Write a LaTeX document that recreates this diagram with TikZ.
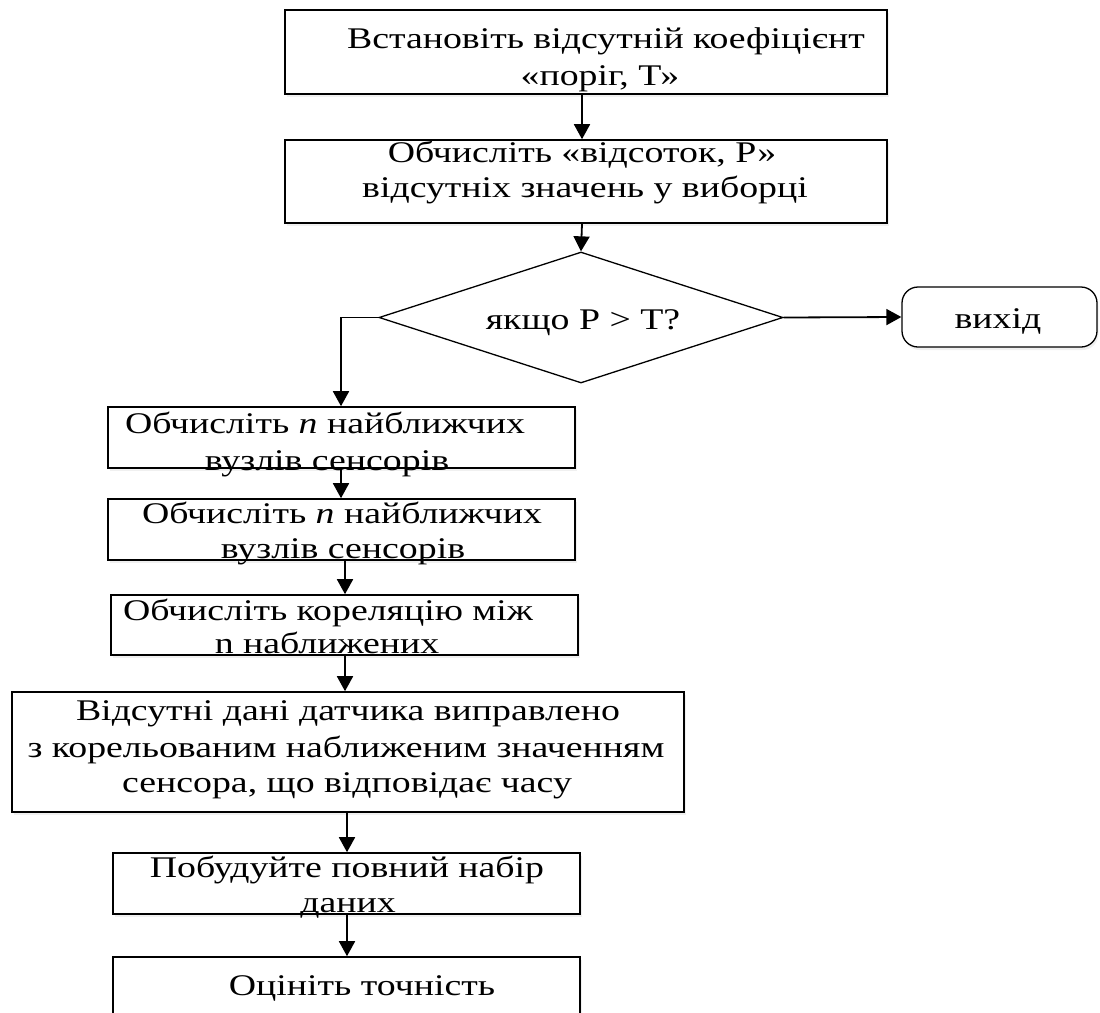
\documentclass[tikz,border=0pt]{standalone}
\usepackage{fontspec}
\setmainfont[FakeStretch=1.26]{Liberation Serif}
\usetikzlibrary{arrows.meta,shapes.geometric,shadows}

\begin{document}
\begin{tikzpicture}[x=1pt,y=-1pt,
  box/.style={draw,rectangle,line width=1.6pt,inner sep=0pt,fill=white,
    drop shadow={opacity=0.12,shadow xshift=1.5pt,shadow yshift=-3pt}},
  decision/.style={draw,diamond,line width=1.3pt,inner sep=0pt,fill=white},
  terminal/.style={draw,rectangle,rounded corners=16pt,line width=1.3pt,inner sep=0pt,fill=white,
    drop shadow={opacity=0.12,shadow xshift=1.5pt,shadow yshift=-3pt}},
  ln/.style={anchor=base,inner sep=0pt,font=\fontsize{30}{36}\selectfont},
  arr/.style={line width=1.8pt,-{Triangle[length=15pt,width=16pt]}}]

\useasboundingbox (0,0) rectangle (1100,1012);
\clip (0,0) rectangle (1100,1012);

% process boxes and decision
\node[box,minimum width=602pt,minimum height=84pt] (b1) at (586,52) {};
\node[box,minimum width=602pt,minimum height=83pt] (b2) at (586,181.5) {};
\node[decision,minimum width=404pt,minimum height=131pt] (dia) at (581,317.5) {};
\node[terminal,minimum width=195pt,minimum height=60pt] (exit) at (999.5,317) {};
\node[box,minimum width=467pt,minimum height=61pt] (b3) at (341.5,437.5) {};
\node[box,minimum width=467pt,minimum height=61pt] (b4) at (341.5,529.5) {};
\node[box,minimum width=467pt,minimum height=60pt] (b5) at (344.5,625) {};
\node[box,minimum width=672pt,minimum height=120pt] (b6) at (348,752) {};
\node[box,minimum width=467pt,minimum height=61pt] (b7) at (346.5,883.5) {};
\node[box,minimum width=467pt,minimum height=83pt] (b8) at (346.5,998.5) {};

% connector columns
\coordinate (cA) at (582,0);
\coordinate (cL) at (341,0);
\coordinate (cM) at (345,0);
\coordinate (cN) at (347,0);

% connectors
\draw[arr] (b1.south -| cA) -- (b2.north -| cA);
\draw[arr] (b2.south -| cA) -- (dia.north);
\draw[arr] (dia.east) -- (exit.west);
\draw[arr] (dia.west) -| (b3.north -| cL);
\draw[arr] (b3.south -| cL) -- (b4.north -| cL);
\draw[arr] (b4.south -| cM) -- (b5.north -| cM);
\draw[arr] (b5.south -| cM) -- (b6.north -| cM);
\draw[arr] (b6.south -| cN) -- (b7.north -| cN);
\draw[arr] (b7.south -| cN) -- (b8.north -| cN);

% labels
\node[ln] (t1a) at (606,48) {Встановіть відсутній коефіцієнт};
\node[ln] (t1b) at (600,85) {«поріг, Т»};
\node[ln] (t2a) at (582,162) {Обчисліть «відсоток, Р»};
\node[ln] (t2b) at (585,197) {відсутніх значень у виборці};
\node[ln] (td) at (583,329) {якщо Р > Т?};
\node[ln] (te) at (998,328) {вихід};
\node[ln] (t3a) at (325,433) {Обчисліть \textit{n} найближчих};
\node[ln] (t3b) at (327,470) {вузлів сенсорів};
\node[ln] (t4a) at (342,523) {Обчисліть \textit{n} найближчих};
\node[ln] (t4b) at (343,558) {вузлів сенсорів};
\node[ln] (t5a) at (328,620) {Обчисліть кореляцію між};
\node[ln] (t5b) at (327,653) {n наближених};
\node[ln] (t6a) at (348,720) {Відсутні дані датчика виправлено};
\node[ln] (t6b) at (346,757) {з корельованим наближеним значенням};
\node[ln] (t6c) at (347,792) {сенсора, що відповідає часу};
\node[ln] (t7a) at (347,877) {Побудуйте повний набір};
\node[ln] (t7b) at (348,912) {даних};
\node[ln] (t8) at (362,995) {Оцініть точність};
\end{tikzpicture}
\end{document}
